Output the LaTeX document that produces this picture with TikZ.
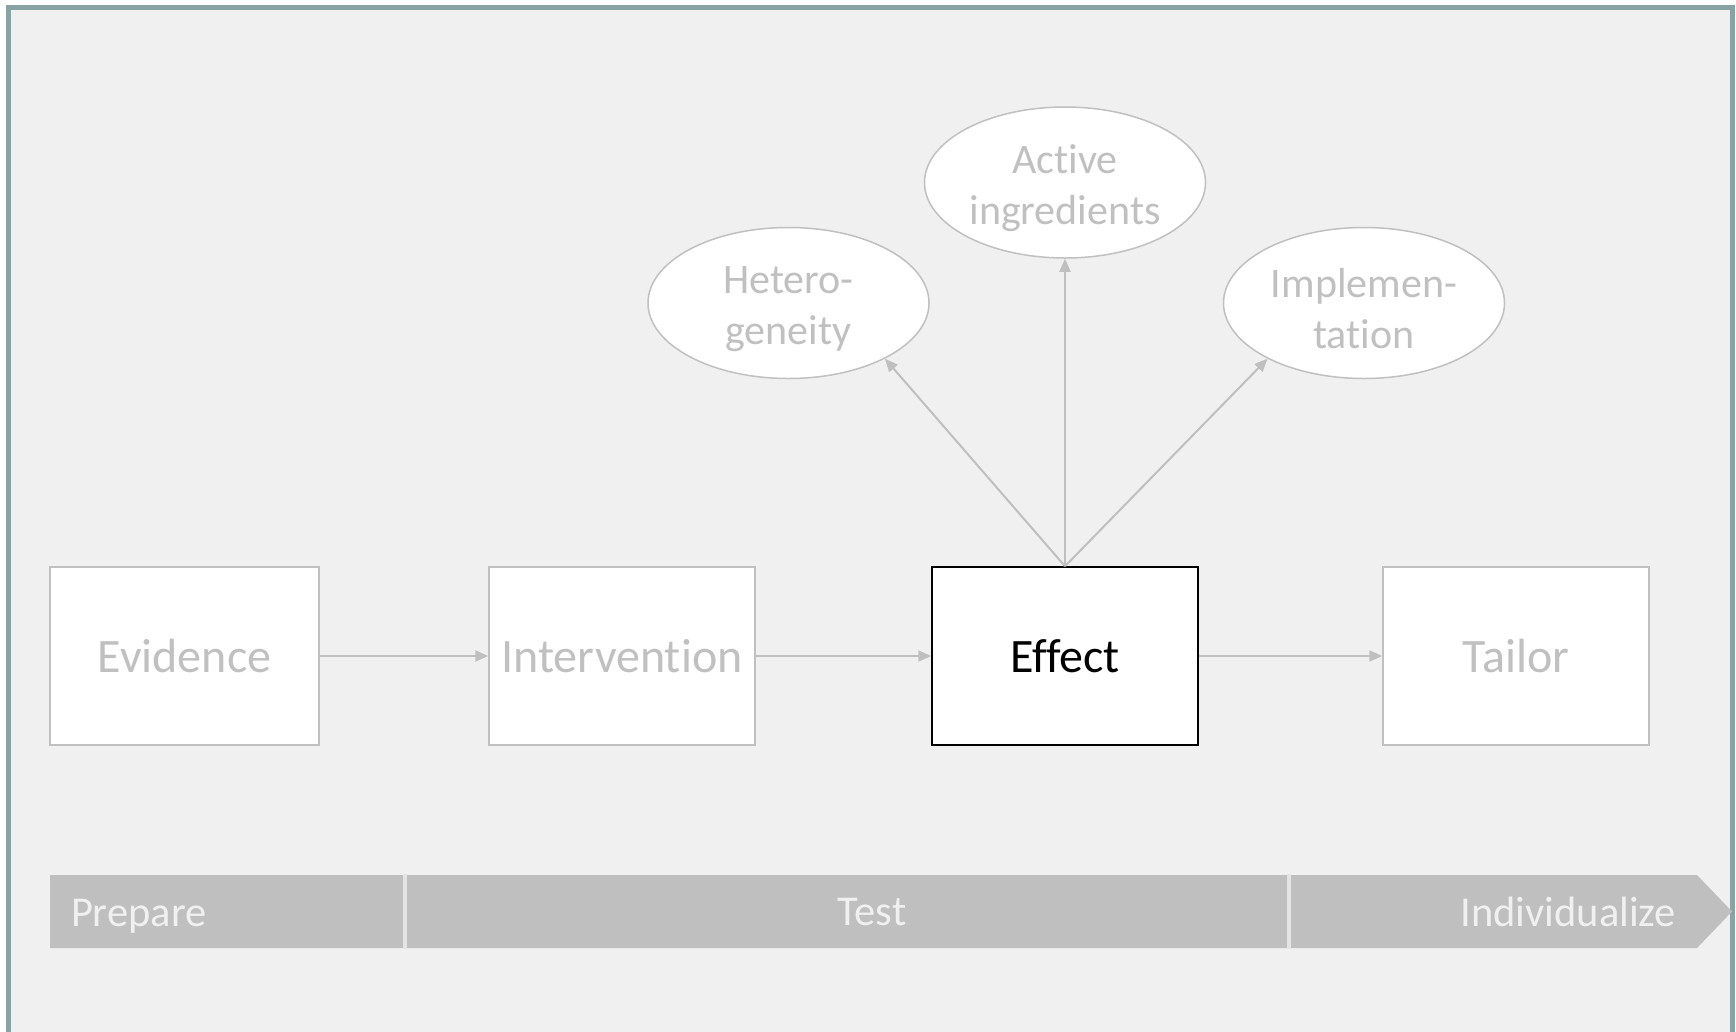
\documentclass[tikz,border=0pt]{standalone}
\usepackage{fontspec}
\setmainfont{Carlito}[Ligatures=CommonOff]
\usetikzlibrary{shapes.geometric,arrows.meta}

\definecolor{framecol}{HTML}{89A3A5}
\definecolor{bgcol}{HTML}{F0F0F0}
\definecolor{greycol}{HTML}{C0C0C0}
\definecolor{bannercol}{HTML}{BFBFBF}
\definecolor{sepcol}{HTML}{E4E4E4}

\begin{document}
\begin{tikzpicture}
[x=1pt, y=-1pt, line width=2pt,
stage/.style={rectangle, draw=greycol, fill=white, line width=1.5pt, inner sep=0pt,
  minimum width=266pt, minimum height=178pt, text=greycol,
  font=\fontsize{48}{56}\selectfont},
facet/.style={ellipse, draw=greycol, fill=white, line width=1.5pt, inner sep=0pt,
  minimum width=281pt, minimum height=151pt},
facettext/.style={text=greycol, align=center, inner sep=0pt, yshift=-6pt,
  font=\fontsize{42}{51}\selectfont},
flow/.style={draw=bannercol, -{Triangle[length=13pt, width=11pt]}},
phase/.style={text=bgcol, inner sep=0pt, font=\fontsize{42.5}{49}\selectfont}]

\useasboundingbox (0, 0) rectangle (1736, 1031);
\draw[framecol, fill=bgcol, line width=5pt] (8.5, 7.5) rectangle (1732.5, 1050);

% main line
\node[stage, minimum width=269pt] (evid) at (184.5, 656) {Evidence};
\node[stage] (interv) at (622, 656) {Intervention};
\node[stage, draw=black, text=black] (effect) at (1065, 656) {Effect};
\node[stage] (tailor) at (1516, 656) {Tailor};

\draw[flow] (evid) -- (interv);
\draw[flow] (interv) -- (effect);
\draw[flow] (effect) -- (tailor);

% what the effect tells us
\node[facet, label={[facettext]center:Hetero-\\geneity}] (hetero) at (788.5, 303) {};
\node[facet, label={[facettext]center:Active\\ingredients}] (active) at (1065, 182.5) {};
\node[facet, label={[facettext]center:Implemen-\\tation}] (implem) at (1364, 303) {};

\draw[flow] (effect.north) -- (hetero.-30);
\draw[flow] (effect.north) -- (active.south);
\draw[flow] (effect.north) -- (implem.-150);

% phases
\fill[bannercol] (50, 875) -- (1697, 875) -- (1732, 911.5) -- (1697, 948)
    -- (50, 948) -- cycle;
\foreach \x in {405, 1289} {
    \draw[sepcol, line width=4pt] (\x, 874) -- (\x, 949);
}
\node[phase, anchor=base west] (prep) at (70, 926) {Prepare};
\node[phase, anchor=base] (test) at (872, 925) {Test};
\node[phase, anchor=base east] (indiv) at (1677, 926) {Individualize};

\end{tikzpicture}
\end{document}
